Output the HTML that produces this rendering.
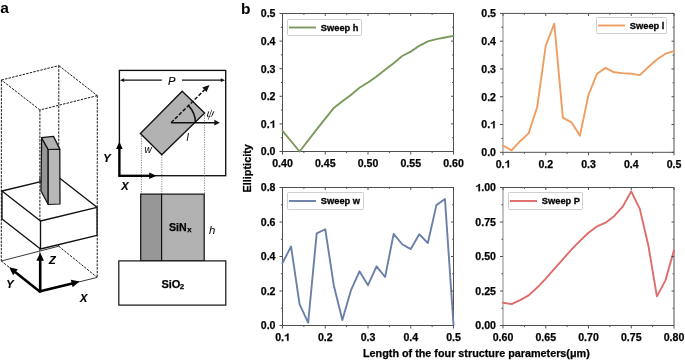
<!DOCTYPE html>
<html><head><meta charset="utf-8"><style>
html,body{margin:0;padding:0;background:#fff;}
body{width:685px;height:362px;overflow:hidden;}
svg{display:block;will-change:transform;}
text{font-family:"Liberation Sans", sans-serif;fill:#000;}
.tk{font-weight:bold;font-size:10.6px;stroke:#000;stroke-width:0.25px;}
.lg{font-weight:bold;font-size:9.9px;stroke:#000;stroke-width:0.3px;}
.al{font-weight:bold;font-size:10.8px;stroke:#000;stroke-width:0.25px;}
.pl{font-weight:bold;font-size:15.5px;}
.ax{font-weight:bold;font-style:italic;font-size:11px;stroke:#000;stroke-width:0.2px;}
.it{font-style:italic;}
.sv{font-weight:bold;font-size:10.6px;stroke:#000;stroke-width:0.25px;}
</style></head><body>
<svg width="685" height="362" viewBox="0 0 685 362">
<rect x="282.50" y="13.50" width="171.00" height="138.00" fill="none" stroke="#505050" stroke-width="1"/>
<polyline points="282.50,130.80 299.60,151.50 316.70,129.42 333.80,107.89 342.35,101.27 350.90,94.92 359.45,87.74 368.00,82.50 376.55,76.43 385.10,69.80 393.65,63.18 402.20,56.00 410.75,51.59 419.30,45.79 427.85,41.38 436.40,39.17 444.95,37.51 453.50,35.86" fill="none" stroke="#7a9a5c" stroke-width="1.9" stroke-linejoin="round" stroke-linecap="round"/>
<path d="M282.50 151.50v3M282.50 13.50v2.5M325.25 151.50v3M325.25 13.50v2.5M368.00 151.50v3M368.00 13.50v2.5M410.75 151.50v3M410.75 13.50v2.5M453.50 151.50v3M453.50 13.50v2.5M303.88 151.50v1.6M303.88 13.50v1.4M346.63 151.50v1.6M346.63 13.50v1.4M389.38 151.50v1.6M389.38 13.50v1.4M432.13 151.50v1.6M432.13 13.50v1.4M282.50 151.50h-3M453.50 151.50h-2.5M282.50 123.90h-3M453.50 123.90h-2.5M282.50 96.30h-3M453.50 96.30h-2.5M282.50 68.70h-3M453.50 68.70h-2.5M282.50 41.10h-3M453.50 41.10h-2.5M282.50 13.50h-3M453.50 13.50h-2.5M282.50 137.70h-1.6M453.50 137.70h-1.4M282.50 110.10h-1.6M453.50 110.10h-1.4M282.50 82.50h-1.6M453.50 82.50h-1.4M282.50 54.90h-1.6M453.50 54.90h-1.4M282.50 27.30h-1.6M453.50 27.30h-1.4" stroke="#505050" stroke-width="1" fill="none"/>
<text x="272.19" y="166.80" class="tk">0.40</text>
<text x="314.94" y="166.80" class="tk">0.45</text>
<text x="357.69" y="166.80" class="tk">0.50</text>
<text x="400.44" y="166.80" class="tk">0.55</text>
<text x="443.19" y="166.80" class="tk">0.60</text>
<text x="260.77" y="155.30" class="tk">0.0</text>
<text x="260.77" y="127.70" class="tk">0.</text>
<path transform="translate(269.61,127.70) scale(0.00518,-0.00518)" d="M880 0L600 0L600 1010Q450 890 160 830L160 1040Q400 1090 530 1220Q610 1300 650 1409L880 1409Z" fill="#000" stroke="#000" stroke-width="48.3"/>
<text x="260.77" y="100.10" class="tk">0.2</text>
<text x="260.77" y="72.50" class="tk">0.3</text>
<text x="260.77" y="44.90" class="tk">0.4</text>
<text x="260.77" y="17.30" class="tk">0.5</text>
<rect x="287.50" y="19.50" width="74.00" height="16.00" fill="#fff" stroke="#cfcfcf" stroke-width="1" rx="0.8"/>
<line x1="289.00" y1="27.50" x2="316.00" y2="27.50" stroke="#7a9a5c" stroke-width="1.9"/>
<text x="320.80" y="30.60" class="lg" textLength="37.72" lengthAdjust="spacingAndGlyphs">Sweep h</text>
<line x1="503.00" y1="13.90" x2="503.00" y2="151.80" stroke="#c2c2c2" stroke-width="2"/>
<path d="M502.50 13.40H674.00V152.30H502.50" fill="none" stroke="#505050" stroke-width="1"/>
<polyline points="503.00,145.63 511.55,150.36 520.10,141.19 528.65,133.41 537.20,107.02 545.75,45.62 554.30,23.68 562.85,117.58 571.40,122.30 579.95,135.63 588.50,94.80 597.05,73.68 605.60,67.85 614.15,72.29 622.70,73.13 631.25,73.68 639.80,75.07 648.35,67.02 656.90,59.51 665.45,53.68 674.00,51.18" fill="none" stroke="#ee9e62" stroke-width="1.9" stroke-linejoin="round" stroke-linecap="round"/>
<path d="M503.00 152.30v3M503.00 13.40v2.5M545.75 152.30v3M545.75 13.40v2.5M588.50 152.30v3M588.50 13.40v2.5M631.25 152.30v3M631.25 13.40v2.5M674.00 152.30v3M674.00 13.40v2.5M524.38 152.30v1.6M524.38 13.40v1.4M567.12 152.30v1.6M567.12 13.40v1.4M609.88 152.30v1.6M609.88 13.40v1.4M652.62 152.30v1.6M652.62 13.40v1.4M503.00 152.30h-3M674.00 152.30h-2.5M503.00 124.52h-3M674.00 124.52h-2.5M503.00 96.74h-3M674.00 96.74h-2.5M503.00 68.96h-3M674.00 68.96h-2.5M503.00 41.18h-3M674.00 41.18h-2.5M503.00 13.40h-3M674.00 13.40h-2.5M503.00 138.41h-1.6M674.00 138.41h-1.4M503.00 110.63h-1.6M674.00 110.63h-1.4M503.00 82.85h-1.6M674.00 82.85h-1.4M503.00 55.07h-1.6M674.00 55.07h-1.4M503.00 27.29h-1.6M674.00 27.29h-1.4" stroke="#505050" stroke-width="1" fill="none"/>
<text x="495.63" y="167.60" class="tk">0.</text>
<path transform="translate(504.47,167.60) scale(0.00518,-0.00518)" d="M880 0L600 0L600 1010Q450 890 160 830L160 1040Q400 1090 530 1220Q610 1300 650 1409L880 1409Z" fill="#000" stroke="#000" stroke-width="48.3"/>
<text x="538.38" y="167.60" class="tk">0.2</text>
<text x="581.13" y="167.60" class="tk">0.3</text>
<text x="623.88" y="167.60" class="tk">0.4</text>
<text x="666.63" y="167.60" class="tk">0.5</text>
<text x="481.27" y="156.10" class="tk">0.0</text>
<text x="481.27" y="128.32" class="tk">0.</text>
<path transform="translate(490.11,128.32) scale(0.00518,-0.00518)" d="M880 0L600 0L600 1010Q450 890 160 830L160 1040Q400 1090 530 1220Q610 1300 650 1409L880 1409Z" fill="#000" stroke="#000" stroke-width="48.3"/>
<text x="481.27" y="100.54" class="tk">0.2</text>
<text x="481.27" y="72.76" class="tk">0.3</text>
<text x="481.27" y="44.98" class="tk">0.4</text>
<text x="481.27" y="17.20" class="tk">0.5</text>
<rect x="596.50" y="17.50" width="70.00" height="16.00" fill="#fff" stroke="#cfcfcf" stroke-width="1" rx="0.8"/>
<line x1="598.00" y1="25.50" x2="625.00" y2="25.50" stroke="#ee9e62" stroke-width="1.9"/>
<text x="629.80" y="28.60" class="lg" textLength="34.62" lengthAdjust="spacingAndGlyphs">Sweep l</text>
<rect x="282.50" y="187.50" width="171.00" height="138.00" fill="none" stroke="#505050" stroke-width="1"/>
<polyline points="282.50,263.06 291.05,246.50 299.60,304.45 308.15,322.57 316.70,233.38 325.25,229.25 333.80,285.48 342.35,319.98 350.90,290.48 359.45,271.34 368.00,285.13 376.55,266.33 385.10,277.03 393.65,233.90 402.20,244.25 410.75,249.08 419.30,234.25 427.85,243.05 436.40,205.10 444.95,199.06 453.50,324.64" fill="none" stroke="#6b80a8" stroke-width="1.9" stroke-linejoin="round" stroke-linecap="round"/>
<path d="M282.50 325.50v3M282.50 187.50v2.5M325.25 325.50v3M325.25 187.50v2.5M368.00 325.50v3M368.00 187.50v2.5M410.75 325.50v3M410.75 187.50v2.5M453.50 325.50v3M453.50 187.50v2.5M303.88 325.50v1.6M303.88 187.50v1.4M346.62 325.50v1.6M346.62 187.50v1.4M389.38 325.50v1.6M389.38 187.50v1.4M432.12 325.50v1.6M432.12 187.50v1.4M282.50 325.50h-3M453.50 325.50h-2.5M282.50 291.00h-3M453.50 291.00h-2.5M282.50 256.50h-3M453.50 256.50h-2.5M282.50 222.00h-3M453.50 222.00h-2.5M282.50 187.50h-3M453.50 187.50h-2.5M282.50 308.25h-1.6M453.50 308.25h-1.4M282.50 273.75h-1.6M453.50 273.75h-1.4M282.50 239.25h-1.6M453.50 239.25h-1.4M282.50 204.75h-1.6M453.50 204.75h-1.4" stroke="#505050" stroke-width="1" fill="none"/>
<text x="275.13" y="340.80" class="tk">0.</text>
<path transform="translate(283.97,340.80) scale(0.00518,-0.00518)" d="M880 0L600 0L600 1010Q450 890 160 830L160 1040Q400 1090 530 1220Q610 1300 650 1409L880 1409Z" fill="#000" stroke="#000" stroke-width="48.3"/>
<text x="317.88" y="340.80" class="tk">0.2</text>
<text x="360.63" y="340.80" class="tk">0.3</text>
<text x="403.38" y="340.80" class="tk">0.4</text>
<text x="446.13" y="340.80" class="tk">0.5</text>
<text x="260.77" y="329.30" class="tk">0.0</text>
<text x="260.77" y="294.80" class="tk">0.2</text>
<text x="260.77" y="260.30" class="tk">0.4</text>
<text x="260.77" y="225.80" class="tk">0.6</text>
<text x="260.77" y="191.30" class="tk">0.8</text>
<rect x="287.50" y="192.50" width="76.00" height="17.00" fill="#fff" stroke="#cfcfcf" stroke-width="1" rx="0.8"/>
<line x1="289.00" y1="201.00" x2="316.00" y2="201.00" stroke="#6b80a8" stroke-width="1.9"/>
<text x="320.80" y="204.10" class="lg" textLength="39.27" lengthAdjust="spacingAndGlyphs">Sweep w</text>
<line x1="503.00" y1="188.00" x2="503.00" y2="325.00" stroke="#c2c2c2" stroke-width="2"/>
<path d="M502.50 187.50H674.00V325.50H502.50" fill="none" stroke="#505050" stroke-width="1"/>
<polyline points="503.00,302.73 511.55,304.11 520.10,300.11 528.65,295.42 537.20,287.55 545.75,278.58 554.30,268.92 562.85,259.26 571.40,249.60 579.95,240.91 588.50,232.76 597.05,226.42 605.60,222.69 614.15,216.20 622.70,206.68 631.25,191.36 639.80,208.89 648.35,245.46 656.90,296.38 665.45,280.37 674.00,250.29" fill="none" stroke="#e06b6b" stroke-width="1.9" stroke-linejoin="round" stroke-linecap="round"/>
<path d="M503.00 325.50v3M503.00 187.50v2.5M545.75 325.50v3M545.75 187.50v2.5M588.50 325.50v3M588.50 187.50v2.5M631.25 325.50v3M631.25 187.50v2.5M674.00 325.50v3M674.00 187.50v2.5M524.38 325.50v1.6M524.38 187.50v1.4M567.12 325.50v1.6M567.12 187.50v1.4M609.88 325.50v1.6M609.88 187.50v1.4M652.63 325.50v1.6M652.63 187.50v1.4M503.00 325.50h-3M674.00 325.50h-2.5M503.00 291.00h-3M674.00 291.00h-2.5M503.00 256.50h-3M674.00 256.50h-2.5M503.00 222.00h-3M674.00 222.00h-2.5M503.00 187.50h-3M674.00 187.50h-2.5M503.00 308.25h-1.6M674.00 308.25h-1.4M503.00 273.75h-1.6M674.00 273.75h-1.4M503.00 239.25h-1.6M674.00 239.25h-1.4M503.00 204.75h-1.6M674.00 204.75h-1.4" stroke="#505050" stroke-width="1" fill="none"/>
<text x="492.69" y="340.80" class="tk">0.60</text>
<text x="535.44" y="340.80" class="tk">0.65</text>
<text x="578.19" y="340.80" class="tk">0.70</text>
<text x="620.94" y="340.80" class="tk">0.75</text>
<text x="663.69" y="340.80" class="tk">0.80</text>
<text x="475.37" y="329.30" class="tk">0.00</text>
<text x="475.37" y="294.80" class="tk">0.25</text>
<text x="475.37" y="260.30" class="tk">0.50</text>
<text x="475.37" y="225.80" class="tk">0.75</text>
<path transform="translate(475.37,191.30) scale(0.00518,-0.00518)" d="M880 0L600 0L600 1010Q450 890 160 830L160 1040Q400 1090 530 1220Q610 1300 650 1409L880 1409Z" fill="#000" stroke="#000" stroke-width="48.3"/>
<text x="481.27" y="191.30" class="tk">.00</text>
<rect x="508.50" y="192.50" width="74.00" height="17.00" fill="#fff" stroke="#cfcfcf" stroke-width="1" rx="0.8"/>
<line x1="510.00" y1="201.00" x2="537.00" y2="201.00" stroke="#e06b6b" stroke-width="1.9"/>
<text x="541.80" y="204.10" class="lg" textLength="38.25" lengthAdjust="spacingAndGlyphs">Sweep P</text>
<text x="363" y="356.6" class="al">Length of the four structure parameters(μm)</text>
<text transform="translate(250.8,168.3) rotate(-90)" text-anchor="middle" class="al" style="font-size:10.9px">Ellipticity</text>
<text x="240.9" y="14.1" class="pl">b</text>
<text x="0.2" y="13.4" class="pl">a</text>
<line x1="1.40" y1="80.00" x2="58.80" y2="65.60" stroke="#1a1a1a" stroke-width="1.0" stroke-dasharray="2.5 1.15"/>
<line x1="58.80" y1="65.60" x2="97.30" y2="95.60" stroke="#1a1a1a" stroke-width="1.0" stroke-dasharray="2.5 1.15"/>
<line x1="97.30" y1="95.60" x2="39.90" y2="110.00" stroke="#1a1a1a" stroke-width="1.0" stroke-dasharray="2.5 1.15"/>
<line x1="39.90" y1="110.00" x2="1.40" y2="80.00" stroke="#1a1a1a" stroke-width="1.0" stroke-dasharray="2.5 1.15"/>
<line x1="1.40" y1="80.00" x2="1.30" y2="261.00" stroke="#1a1a1a" stroke-width="1.0" stroke-dasharray="2.5 1.15"/>
<line x1="58.80" y1="65.60" x2="58.70" y2="246.20" stroke="#1a1a1a" stroke-width="1.0" stroke-dasharray="2.5 1.15"/>
<line x1="97.30" y1="95.60" x2="97.20" y2="277.40" stroke="#1a1a1a" stroke-width="1.0" stroke-dasharray="2.5 1.15"/>
<line x1="39.90" y1="110.00" x2="39.80" y2="291.60" stroke="#1a1a1a" stroke-width="1.0" stroke-dasharray="2.5 1.15"/>
<line x1="58.70" y1="246.20" x2="97.20" y2="277.40" stroke="#1a1a1a" stroke-width="1.0" stroke-dasharray="2.5 1.15"/>
<line x1="1.30" y1="261.00" x2="58.70" y2="246.20" stroke="#222" stroke-width="0.9"/>
<line x1="1.30" y1="261.00" x2="39.80" y2="291.60" stroke="#1a1a1a" stroke-width="1.0" stroke-dasharray="2.5 1.15"/>
<line x1="39.80" y1="291.60" x2="97.20" y2="277.40" stroke="#222" stroke-width="0.9"/>
<polygon points="2.00,191.00 58.50,177.30 97.00,207.30 97.00,235.30 40.50,249.00 2.00,219.00" fill="#fff" stroke="#111" stroke-width="1.35" stroke-linejoin="round"/>
<polyline points="2.00,191.00 40.50,221.00 97.00,207.30" fill="none" stroke="#111" stroke-width="1.35" stroke-linejoin="round"/>
<line x1="40.50" y1="221.00" x2="40.50" y2="249.00" stroke="#111" stroke-width="1.35"/>
<line x1="39.90" y1="178.00" x2="39.90" y2="221.00" stroke="#1a1a1a" stroke-width="1.0" stroke-dasharray="2.5 1.15"/>
<polygon points="41.6,137.7 48.2,149.5 48.2,204.5 41.0,191.0" fill="#959595" stroke="#111" stroke-width="1.25" stroke-linejoin="round"/>
<polygon points="48.2,149.5 59.8,149.1 60.0,204.0 48.2,204.5" fill="#b8b8b8" stroke="#111" stroke-width="1.25" stroke-linejoin="round"/>
<polygon points="41.6,137.7 53.5,136.4 59.8,149.1 48.2,149.5" fill="#b3b3b3" stroke="#111" stroke-width="1.25" stroke-linejoin="round"/>
<line x1="40.20" y1="292.60" x2="40.20" y2="260.30" stroke="#000" stroke-width="2.60"/>
<polygon points="40.20,252.80 44.00,260.80 36.40,260.80" fill="#000"/>
<line x1="40.30" y1="291.90" x2="15.08" y2="271.95" stroke="#000" stroke-width="2.60"/>
<polygon points="9.20,267.30 17.83,269.28 13.12,275.24" fill="#000"/>
<line x1="39.20" y1="291.50" x2="72.22" y2="283.39" stroke="#000" stroke-width="2.60"/>
<polygon points="79.50,281.60 72.64,287.20 70.82,279.82" fill="#000"/>
<text x="48.9" y="264.0" class="ax">Z</text>
<text x="6.3" y="287.8" class="ax">Y</text>
<text x="79.9" y="301.8" class="ax">X</text>
<rect x="119.4" y="70.4" width="106.3" height="105.3" fill="none" stroke="#111" stroke-width="1.35"/>
<line x1="122" y1="80.2" x2="161.8" y2="80.2" stroke="#111" stroke-width="1.3"/>
<line x1="182" y1="80.2" x2="222.5" y2="80.2" stroke="#111" stroke-width="1.3"/>
<polygon points="119.9,80.2 124.2,78.3 124.2,82.1" fill="#111"/>
<polygon points="225.1,80.2 220.8,78.3 220.8,82.1" fill="#111"/>
<text x="168" y="85" class="it" style="font-size:11.2px;stroke:#111;stroke-width:0.15px">P</text>
<line x1="141.40" y1="133.50" x2="141.40" y2="194" stroke="#666" stroke-width="0.8" stroke-dasharray="1.2 1.2"/>
<line x1="161.80" y1="154.70" x2="161.80" y2="194" stroke="#666" stroke-width="0.8" stroke-dasharray="1.2 1.2"/>
<line x1="204.60" y1="112.90" x2="204.60" y2="194" stroke="#666" stroke-width="0.8" stroke-dasharray="1.2 1.2"/>
<polygon points="182.2,91.2 204.6,112.9 161.8,154.7 140.4,133.5" fill="#b2b2b2" stroke="#111" stroke-width="1.35" stroke-linejoin="miter"/>
<line x1="171.10" y1="122.70" x2="214.90" y2="122.70" stroke="#111" stroke-width="1.50"/>
<polygon points="219.80,122.70 214.40,125.60 214.40,119.80" fill="#111"/>
<line x1="171.1" y1="122.7" x2="204.9" y2="89.5" stroke="#111" stroke-width="1.5" stroke-dasharray="3.8 1.7"/>
<polygon points="209.5,85.0 202.2,87.6 206.6,92.0" fill="#111"/>
<path d="M195.4 122.7 A24.3 24.3 0 0 0 188.4 105.6" fill="none" stroke="#111" stroke-width="1.5"/>
<text transform="translate(206.0,117.0) skewX(-10)" class="it" style="font-family:'Liberation Serif',serif;font-size:12px">ψ</text>
<text x="186.5" y="140.8" class="it" style="font-size:10px">l</text>
<text x="144.5" y="152.9" class="it" style="font-size:10px">w</text>
<line x1="119.40" y1="176.60" x2="119.40" y2="148.50" stroke="#000" stroke-width="2.30"/>
<polygon points="119.40,141.80 122.70,149.00 116.10,149.00" fill="#000"/>
<line x1="118.40" y1="175.80" x2="149.70" y2="175.80" stroke="#000" stroke-width="2.30"/>
<polygon points="156.40,175.80 149.20,179.10 149.20,172.50" fill="#000"/>
<text x="103.3" y="161.8" class="ax">Y</text>
<text x="121.3" y="189.7" class="ax">X</text>
<rect x="140.7" y="194.1" width="20.9" height="66.8" fill="#979797" stroke="#111" stroke-width="1.2"/>
<rect x="161.6" y="194.1" width="42.6" height="66.8" fill="#b2b2b2" stroke="#111" stroke-width="1.2"/>
<rect x="118.8" y="260.9" width="107" height="44.2" fill="#fff" stroke="#111" stroke-width="1.2"/>
<text x="169" y="231" class="sv">SiN<tspan font-size="7.6" dx="0.5" dy="1.0">x</tspan></text>
<text x="161.4" y="288.4" class="sv" style="font-size:11px">SiO<tspan font-size="8" dx="-0.5" dy="0.5">2</tspan></text>
<text x="209" y="233.8" class="it" style="font-size:11.4px">h</text>
</svg>
</body></html>
